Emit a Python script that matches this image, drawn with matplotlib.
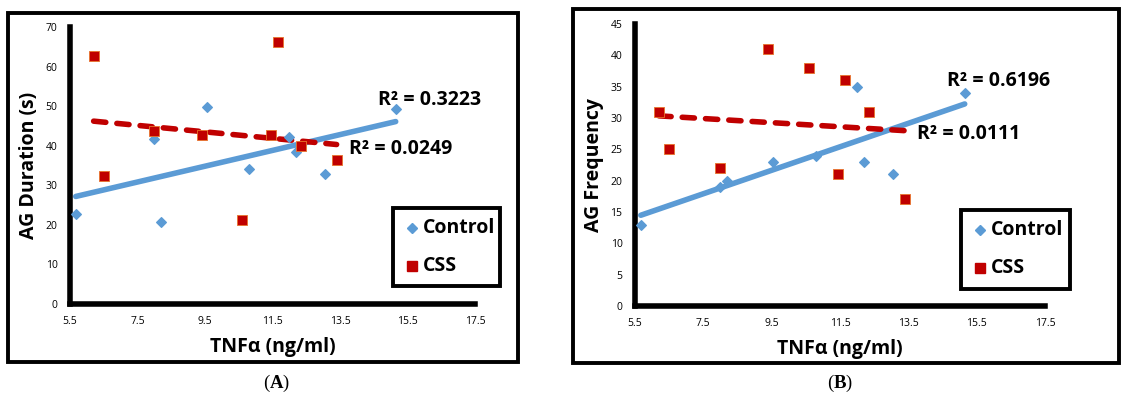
import matplotlib
matplotlib.use('Agg')
import matplotlib.pyplot as plt
from matplotlib.patches import Rectangle
from matplotlib.lines import Line2D
import numpy as np

plt.rcParams['font.family'] = ['Open Sans', 'DejaVu Sans']
plt.rcParams['mathtext.fontset'] = 'custom'
plt.rcParams['mathtext.rm'] = 'Liberation Serif'
plt.rcParams['mathtext.bf'] = 'Liberation Serif:bold'

# data
control_tnf = [5.67, 8.0, 8.2, 9.55, 10.8, 12.0, 12.2, 13.05, 15.15]
css_tnf = [6.2, 6.5, 8.0, 9.4, 10.6, 11.45, 11.65, 12.35, 13.4]

control_duration = [22.7, 41.7, 20.8, 49.7, 34.0, 42.3, 38.4, 32.8, 49.2]
css_duration = [62.7, 32.3, 43.8, 42.8, 21.3, 42.8, 66.2, 40.0, 36.3]

control_freq = [13, 19, 20, 23, 24, 35, 23, 21, 34]
css_freq = [31, 25, 22, 41, 38, 21, 36, 31, 17]

r2_labels_a = ['R² = 0.3223', 'R² = 0.0249']
r2_labels_b = ['R² = 0.6196', 'R² = 0.0111']

x_ticks = [5.5, 7.5, 9.5, 11.5, 13.5, 15.5, 17.5]

blue = '#5B9BD5'
red = '#C00000'

W, H = 1123, 399
fig = plt.figure(figsize=(W / 100, H / 100), dpi=100)


def px(x0, y0, x1, y1):
    # pixel box (top-left origin) -> figure fraction rect
    return [x0 / W, 1 - y1 / H, (x1 - x0) / W, (y1 - y0) / H]


def trend(ax, x, y, **kw):
    m, b = np.polyfit(x, y, 1)
    xs = np.array([min(x), max(x)])
    ax.plot(xs, m * xs + b, **kw)


def panel(box, frame, ymax, ystep, yc, ys, ylabel, r2, r2pos, legbox, tag, tagpos):
    fig.patches.append(Rectangle((frame[0] / W, 1 - frame[3] / H),
                                 (frame[2] - frame[0]) / W, (frame[3] - frame[1]) / H,
                                 transform=fig.transFigure, fill=False,
                                 lw=2.8, ec='black', zorder=0))
    ax = fig.add_axes(px(*box))
    ax.set_xlim(5.5, 17.5)
    ax.set_ylim(0, ymax)
    ax.set_xticks(x_ticks)
    ax.set_xticklabels([f'{t:.1f}' for t in x_ticks])
    ax.set_yticks(np.arange(0, ymax + 1, ystep))
    for s in ['top', 'right']:
        ax.spines[s].set_visible(False)
    for s in ['left', 'bottom']:
        ax.spines[s].set_linewidth(4)
        ax.spines[s].set_capstyle('projecting')
    ax.tick_params(length=0, labelsize=7.5, pad=9)
    ax.patch.set_alpha(0)

    trend(ax, control_tnf, yc, color=blue, lw=4, solid_capstyle='round', zorder=2)
    trend(ax, css_tnf, ys, color=red, lw=4, ls=(0, (2.2, 2.0)),
          dash_capstyle='round', zorder=2)
    ax.scatter(control_tnf, yc, marker='D', s=24, color=blue, zorder=3,
               clip_on=False)
    ax.scatter(css_tnf, ys, marker='s', s=46, color=red, ec='#E8742C',
               lw=0.6, zorder=3, clip_on=False)

    ax.set_ylabel(ylabel, fontsize=14, fontweight='bold', labelpad=5)
    ax.set_xlabel('TNFα (ng/ml)', fontsize=14, fontweight='bold', labelpad=7)

    for lab, (tx, ty) in zip(r2, r2pos):
        fig.text(tx / W, 1 - ty / H, lab, fontsize=14, fontweight='bold',
                 va='center', ha='left')

    # legend box drawn by hand in pixel coords
    lx0, ly0, lx1, ly1 = legbox
    fig.patches.append(Rectangle((lx0 / W, 1 - ly1 / H), (lx1 - lx0) / W,
                                 (ly1 - ly0) / H, transform=fig.transFigure,
                                 fill=True, fc='white', lw=2.8, ec='black',
                                 zorder=5))
    rows = [('Control', 'D', 26, blue), ('CSS', 's', 46, red)]
    for i, (name, mk, sz, col) in enumerate(rows):
        yy = 1 - (ly0 + 20 + i * 38) / H
        fig.add_artist(Line2D([(lx0 + 19) / W], [yy], ls='none', marker=mk,
                              ms=np.sqrt(sz), color=col, zorder=6,
                              transform=fig.transFigure))
        fig.text((lx0 + 30) / W, yy, name, fontsize=14, fontweight='bold',
                 va='center', ha='left', zorder=6)

    fig.text(tagpos[0] / W, 1 - tagpos[1] / H, r'($\mathbf{' + tag + r'}$)',
             fontsize=13.5, ha='center', va='center', family='Liberation Serif')
    return ax


panel((70, 27, 475, 304), (8, 13, 518, 362), 70, 10,
      control_duration, css_duration, 'AG Duration (s)',
      r2_labels_a, [(378, 100), (349, 149)], (393, 208, 500, 286), 'A', (277, 383))

panel((635, 24, 1045, 306), (573, 9, 1119, 363), 45, 5,
      control_freq, css_freq, 'AG Frequency',
      r2_labels_b, [(947, 81), (917, 134)], (961, 210, 1070, 289), 'B', (840, 383))

fig.savefig('out.png', dpi=100)
